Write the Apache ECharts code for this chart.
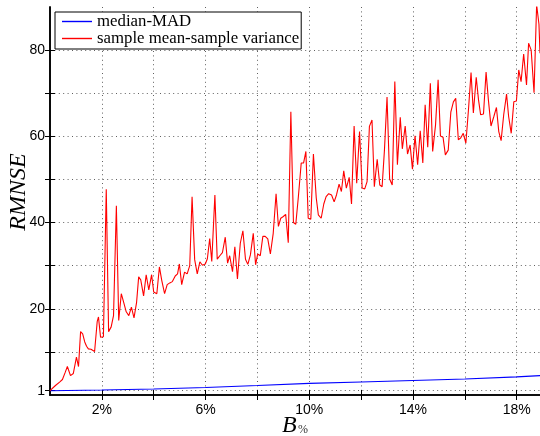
<!DOCTYPE html>
<html>
<head>
<meta charset="utf-8">
<script src="https://cdn.jsdelivr.net/npm/echarts@6/dist/echarts.min.js"></script>
<style>
  html, body { margin: 0; padding: 0; background: #fff; }
  #chart { width: 540px; height: 436px; }
</style>
</head>
<body>
<div id="chart"></div>
<script>
// Bandwidth B (percent) at which each estimator was evaluated
const redB = [
  0, 0.21, 0.37, 0.48, 0.59, 0.67, 0.79, 0.90, 1.02, 1.10,
  1.18, 1.26, 1.34, 1.41, 1.48, 1.58, 1.72, 1.82, 1.87, 1.95,
  2.06, 2.17, 2.26, 2.36, 2.45, 2.56, 2.65, 2.75, 2.85, 2.94,
  3.04, 3.14, 3.24, 3.34, 3.42, 3.50, 3.61, 3.71, 3.81, 3.92,
  4.00, 4.12, 4.22, 4.31, 4.42, 4.52, 4.62, 4.72, 4.83, 4.92,
  4.99, 5.08, 5.19, 5.29, 5.39, 5.48, 5.58, 5.68, 5.78, 5.88,
  5.99, 6.07, 6.16, 6.24, 6.36, 6.45, 6.55, 6.65, 6.76, 6.85,
  6.93, 7.04, 7.13, 7.23, 7.34, 7.44, 7.54, 7.63, 7.73, 7.84,
  7.93, 8.01, 8.11, 8.21, 8.30, 8.40, 8.50, 8.61, 8.72, 8.81,
  8.90, 9.00, 9.09, 9.19, 9.29, 9.39, 9.48, 9.58, 9.69, 9.78,
  9.87, 9.96, 10.06, 10.16, 10.27, 10.35, 10.46, 10.56, 10.65, 10.75,
  10.86, 10.96, 11.05, 11.15, 11.24, 11.33, 11.43, 11.54, 11.63, 11.73,
  11.83, 11.94, 12.04, 12.14, 12.23, 12.32, 12.42, 12.51, 12.62, 12.72,
  12.81, 12.90, 13.00, 13.10, 13.20, 13.30, 13.40, 13.51, 13.59, 13.70,
  13.79, 13.89, 13.98, 14.08, 14.18, 14.28, 14.38, 14.47, 14.57, 14.67,
  14.76, 14.87, 14.97, 15.06, 15.16, 15.25, 15.36, 15.46, 15.56, 15.65,
  15.75, 15.84, 15.94, 16.04, 16.14, 16.24, 16.33, 16.44, 16.53, 16.61,
  16.72, 16.82, 16.91, 17.01, 17.12, 17.22, 17.31, 17.40, 17.50, 17.61,
  17.69, 17.79, 17.89, 17.99, 18.08, 18.17, 18.27, 18.38, 18.46, 18.56,
  18.67, 18.77, 18.86, 18.9
];

// RMNSE of the sample mean / sample variance estimator
const redRmnse = [
  1.0, 2.2, 3.0, 3.6, 5.3, 6.6, 4.5, 5.0, 8.8, 6.6,
  14.7, 14.2, 12.3, 11.3, 10.7, 10.6, 10.1, 17.0, 18.1, 13.4,
  13.5, 47.7, 14.7, 15.8, 18.4, 43.9, 17.3, 23.5, 21.3, 19.3,
  18.4, 20.4, 17.9, 21.5, 27.4, 26.7, 23.0, 27.9, 24.4, 27.9,
  23.9, 23.5, 29.7, 26.6, 23.5, 25.6, 26.0, 26.3, 27.6, 28.1,
  30.4, 25.6, 28.5, 28.1, 30.0, 46.0, 31.4, 28.1, 30.9, 30.1,
  30.4, 31.6, 36.3, 31.0, 46.4, 31.5, 32.3, 33.0, 36.6, 30.6,
  32.3, 28.6, 34.4, 26.9, 35.2, 38.1, 31.5, 30.3, 32.5, 37.5,
  30.2, 32.7, 32.3, 36.8, 36.8, 36.2, 32.7, 37.5, 46.7, 39.1,
  41.0, 41.4, 41.9, 35.3, 65.7, 40.0, 39.6, 46.0, 53.8, 53.8,
  56.5, 41.0, 40.8, 55.9, 45.7, 41.8, 41.0, 44.3, 46.0, 46.7,
  46.4, 44.8, 46.4, 48.9, 47.2, 52.0, 48.0, 50.5, 44.3, 62.4,
  49.1, 61.1, 48.0, 47.8, 49.5, 62.3, 63.8, 48.3, 54.7, 48.7,
  48.3, 56.8, 69.1, 50.1, 48.7, 72.7, 53.4, 64.4, 57.1, 62.4,
  55.9, 58.0, 52.4, 60.1, 53.4, 61.3, 53.8, 67.3, 57.5, 72.3,
  56.5, 62.6, 73.1, 60.1, 59.8, 55.7, 56.8, 65.6, 68.0, 68.8,
  59.2, 59.6, 60.7, 58.4, 66.1, 74.8, 65.4, 73.7, 68.4, 65.0,
  65.2, 74.9, 68.4, 62.4, 64.6, 66.7, 61.1, 59.0, 65.0, 69.8,
  64.6, 60.7, 68.0, 68.2, 75.4, 72.7, 79.1, 71.9, 81.6, 80.0,
  70.1, 90.5, 86.0, 79.3
];

// RMNSE of the median / MAD estimator (smooth, slowly rising)
const blueB = [0, 2, 4, 6, 8, 10, 12, 14, 16, 18, 18.9];
const blueRmnse = [1.0, 1.15, 1.4, 1.75, 2.2, 2.7, 3.0, 3.35, 3.7, 4.2, 4.5];

const seriesNames = ['median-MAD', 'sample mean-sample variance'];

// Axis ticks and labels
const xTicks = [2, 4, 6, 8, 10, 12, 14, 16, 18];
const xLabels = [2, 6, 10, 14, 18];
const yTicks = [1, 10, 20, 30, 40, 50, 60, 70, 80];
const yLabels = [1, 20, 40, 60, 80];

const zip = (xs, ys) => xs.map((x, i) => [x, ys[i]]);

const gridDots = { color: '#606060', width: 1, type: [1, 3.4] };
const frame = { color: '#000', width: 1.6 };
const tickFont = { fontFamily: 'Liberation Sans, Arial, sans-serif', fontSize: 14, color: '#000' };
// thin horizontal bar used as the legend key (a plain line sample)
const lineKey = 'path://M0,0 L30,0 L30,1.4 L0,1.4 Z';

const chart = echarts.init(document.getElementById('chart'), null, { renderer: 'canvas' });
chart.setOption({
  animation: false,
  backgroundColor: '#fff',
  grid: { left: 50, right: 0, top: 7, bottom: 41, containLabel: false },
  legend: {
    data: seriesNames.map(n => ({ name: n, icon: lineKey })),
    orient: 'vertical',
    left: 55,
    top: 12,
    itemWidth: 30,
    itemHeight: 14,
    itemGap: 0,
    padding: [1, 2, 2, 7],
    borderColor: '#000',
    borderWidth: 1,
    backgroundColor: '#fff',
    textStyle: { fontFamily: 'Liberation Serif, serif', fontSize: 16.8, color: '#000' }
  },
  xAxis: [
    {
      type: 'value', position: 'bottom', min: 0, max: 18.9,
      axisLine: { show: true, lineStyle: frame },
      axisTick: { show: true, inside: true, length: 5, customValues: xTicks, lineStyle: { color: '#000' } },
      axisLabel: Object.assign({ customValues: xLabels, margin: 8, formatter: v => v + '%' }, tickFont),
      splitLine: { show: true, lineStyle: gridDots }
    },
    {
      type: 'value', position: 'top', min: 0, max: 18.9,
      axisLine: { show: true, lineStyle: frame },
      axisTick: { show: true, inside: true, length: 5, customValues: xTicks, lineStyle: { color: '#000' } },
      axisLabel: { show: false },
      splitLine: { show: false }
    }
  ],
  yAxis: [
    {
      type: 'value', position: 'left', min: 0, max: 90,
      axisLine: { show: true, lineStyle: frame },
      axisTick: { show: true, inside: true, length: 5, customValues: yTicks, lineStyle: { color: '#000' } },
      axisLabel: Object.assign({ customValues: yLabels, margin: 5 }, tickFont),
      splitLine: { show: true, lineStyle: gridDots }
    },
    {
      type: 'value', position: 'right', min: 0, max: 90,
      axisLine: { show: true, lineStyle: frame },
      axisTick: { show: true, inside: true, length: 5, customValues: yTicks, lineStyle: { color: '#000' } },
      axisLabel: { show: false },
      splitLine: { show: false }
    }
  ],
  series: [
    {
      name: seriesNames[0], type: 'line', xAxisIndex: 0, yAxisIndex: 0,
      data: zip(blueB, blueRmnse), symbol: 'none', smooth: false,
      lineStyle: { color: '#0000ff', width: 1.1 }, itemStyle: { color: '#0000ff' }
    },
    {
      name: seriesNames[1], type: 'line', xAxisIndex: 0, yAxisIndex: 0,
      data: zip(redB, redRmnse), symbol: 'none', smooth: false, clip: true,
      lineStyle: { color: '#ff0000', width: 1.1 }, itemStyle: { color: '#ff0000' }
    }
  ],
  graphic: [
    {
      type: 'text', x: 19, y: 192, rotation: Math.PI / 2,
      style: {
        text: 'RMNSE', fill: '#000', align: 'center', verticalAlign: 'middle',
        font: 'italic 24px "Liberation Serif", serif'
      }
    },
    {
      type: 'text', x: 282, y: 425.5,
      style: {
        text: 'B', fill: '#000', align: 'left', verticalAlign: 'middle',
        font: 'italic 24px "Liberation Serif", serif'
      }
    },
    {
      type: 'text', x: 298, y: 430,
      style: {
        text: '%', fill: '#333', align: 'left', verticalAlign: 'middle',
        font: '12px "Liberation Serif", serif'
      }
    }
  ]
});
</script>
</body>
</html>
